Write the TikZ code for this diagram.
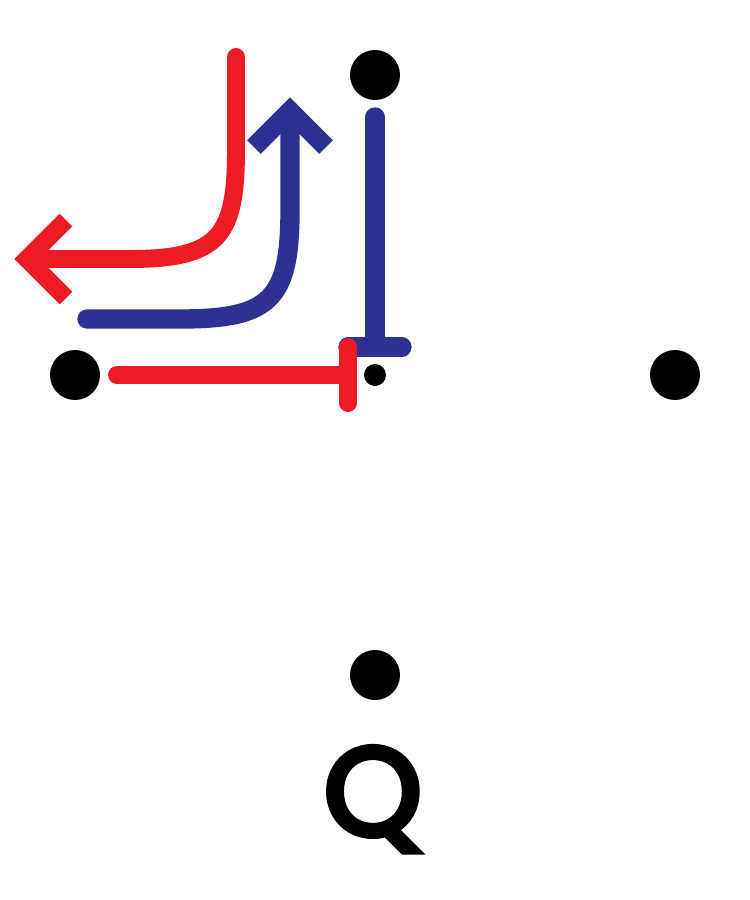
\documentclass[tikz,border=0pt]{standalone}
\usepackage{fontspec}
\setmainfont{Liberation Sans}
\newfontfamily\qfont{Poppins}[FakeBold=5]
\usetikzlibrary{calc}
\definecolor{qred}{HTML}{ED1C24}
\definecolor{qblue}{HTML}{2E3192}
\tikzset{
	dot/.style={circle,fill=black,inner sep=0pt,minimum size=1cm},
	smalldot/.style={circle,fill=black,inner sep=0pt,minimum size=0.44cm},
	redline/.style={draw=qred,line width=10.2pt,line cap=round},
	blueline/.style={draw=qblue,line width=11pt,line cap=round},
	barb/.style={line cap=butt,line join=miter}
}
\begin{document}
\begin{tikzpicture}[x=0.02cm,y=-0.02cm]
	\useasboundingbox (0,0) rectangle (750,900);
		\path
	(290,111) coordinate (BT)
	(27,259) coordinate (RT)
	;
	\foreach \n/\x/\y in {N/375/75,W/75/375,E/675/375,S/375/675}\node[dot] (\n) at (\x,\y) {};
	\node[smalldot] (O) at (375,375) {};
	% blue inhibition
	\draw[blueline] (375,117)--(375,347) (348,347)--(402,347);
	% red inhibition
	\draw[redline] (117,375)--(348,375) (348,347)--(348,403);
	% blue curved arrow
	\draw[blueline] (87,319)--(180,319) .. controls (270,319) and (290,300) .. (290,210)--(BT);
	\draw[blueline,barb] ($(BT)+(-36,36)$)--(BT)--($(BT)+(36,36)$);
	% red curved arrow
	\draw[redline] (236,57)--(236,150) .. controls (236,235) and (220,259) .. (130,259)--(RT);
	\draw[redline,barb] ($(RT)+(39,-39)$)--(RT)--($(RT)+(39,39)$);
	\node[font=\qfont\fontsize{71}{71}\selectfont,anchor=base,inner sep=0pt] (Q) at (373,835) {Q};
\end{tikzpicture}
\end{document}
